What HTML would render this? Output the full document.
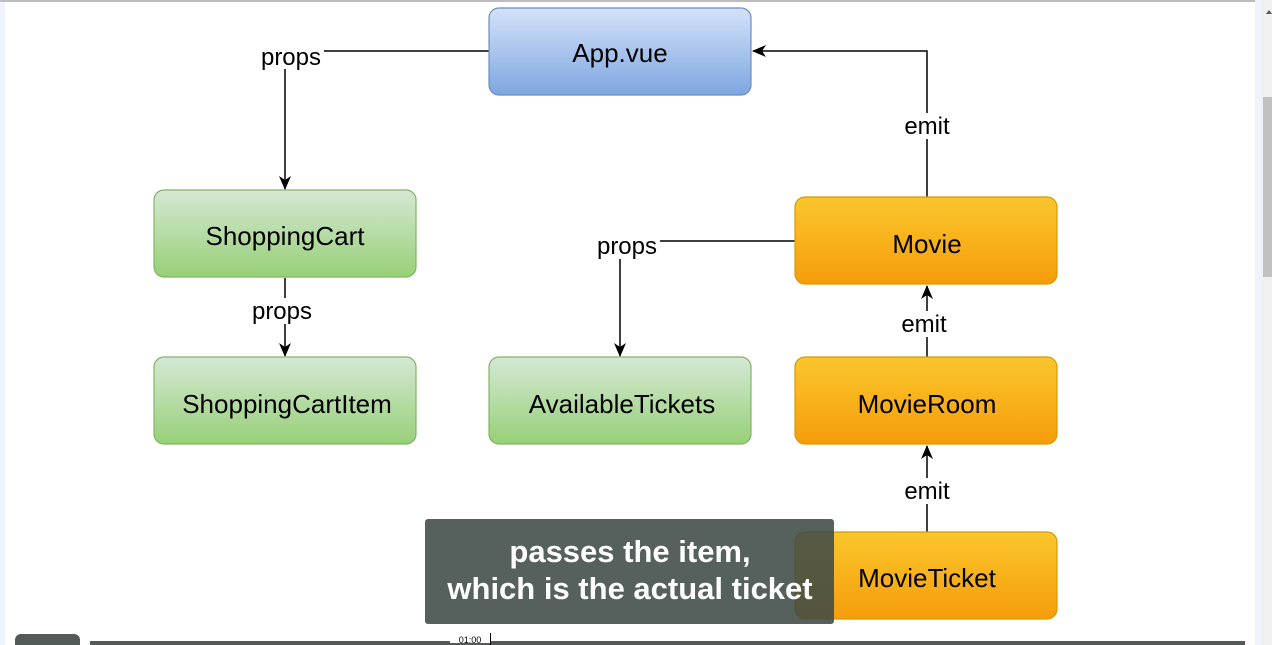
<!DOCTYPE html>
<html><head><meta charset="utf-8"><style>
html,body{margin:0;padding:0;width:1272px;height:645px;overflow:hidden;background:#fff;font-family:"Liberation Sans",Arial,sans-serif}
</style></head><body>
<svg width="1272" height="645" viewBox="0 0 1272 645" xmlns="http://www.w3.org/2000/svg" style="position:absolute;left:0;top:0">
<defs>
<linearGradient id="b" x1="0" y1="0" x2="0" y2="1"><stop offset="0" stop-color="#d4e2fa"/><stop offset="1" stop-color="#7ea6e0"/></linearGradient>
<linearGradient id="g" x1="0" y1="0" x2="0" y2="1"><stop offset="0" stop-color="#d5e8d4"/><stop offset="1" stop-color="#97d077"/></linearGradient>
<linearGradient id="o" x1="0" y1="0" x2="0" y2="1"><stop offset="0" stop-color="#fbc62c"/><stop offset="1" stop-color="#f59d0b"/></linearGradient>
<marker id="a" markerWidth="14" markerHeight="14" refX="13" refY="7" orient="auto" markerUnits="userSpaceOnUse"><path d="M0,1 L14,7 L0,13 L4,7 z" fill="#000"/></marker>
</defs>
<rect x="0" y="0" width="5" height="645" fill="#eef3fd"/>
<rect x="1255" y="0" width="6" height="645" fill="#eef3fd"/>
<rect x="1261" y="0" width="11" height="645" fill="#f0f0f0"/>
<rect x="1263" y="97" width="9" height="180" fill="#c1c1c1"/>
<path d="M1266,14 l3,-4 l3,4z" fill="#555"/>
<rect x="0" y="0" width="1255" height="2" fill="#bdbdbd"/>
<g stroke="#000" stroke-width="1.5" fill="none">
<path d="M489,51 H285 V189" marker-end="url(#a)"/>
<path d="M285,278 V356" marker-end="url(#a)"/>
<path d="M795,241 H620 V356" marker-end="url(#a)"/>
<path d="M927,197 V51 H753" marker-end="url(#a)"/>
<path d="M927,357 V286" marker-end="url(#a)"/>
<path d="M927,532 V446" marker-end="url(#a)"/>
</g>
<g font-size="24" text-anchor="middle" fill="#000">
<rect x="258" y="43" width="66" height="26" fill="#fff"/><text x="291" y="65">props</text>
<rect x="250" y="298" width="66" height="26" fill="#fff"/><text x="282" y="319">props</text>
<rect x="594" y="233" width="66" height="26" fill="#fff"/><text x="627" y="254">props</text>
<rect x="900" y="113" width="54" height="26" fill="#fff"/><text x="927" y="134">emit</text>
<rect x="896" y="311" width="56" height="26" fill="#fff"/><text x="924" y="332">emit</text>
<rect x="900" y="478" width="54" height="26" fill="#fff"/><text x="927" y="499">emit</text>
</g>
<g stroke-width="1.2">
<rect x="489" y="8" width="262" height="87" rx="10" fill="url(#b)" stroke="#6c8ebf"/>
<rect x="154" y="190" width="262" height="87" rx="10" fill="url(#g)" stroke="#82b366"/>
<rect x="154" y="357" width="262" height="87" rx="10" fill="url(#g)" stroke="#82b366"/>
<rect x="489" y="357" width="262" height="87" rx="10" fill="url(#g)" stroke="#82b366"/>
<rect x="795" y="197" width="262" height="87" rx="10" fill="url(#o)" stroke="#d79b00"/>
<rect x="795" y="357" width="262" height="87" rx="10" fill="url(#o)" stroke="#d79b00"/>
<rect x="795" y="532" width="262" height="87" rx="10" fill="url(#o)" stroke="#d79b00"/>
</g>
<g font-size="26" text-anchor="middle" fill="#000">
<text x="620" y="62">App.vue</text>
<text x="285" y="245">ShoppingCart</text>
<text x="287" y="413">ShoppingCartItem</text>
<text x="622" y="413">AvailableTickets</text>
<text x="927" y="253">Movie</text>
<text x="927" y="413">MovieRoom</text>
<text x="927" y="587">MovieTicket</text>
</g>
<rect x="425" y="519" width="409" height="105" rx="3" fill="#3f4a47" fill-opacity="0.88"/>
<g font-size="31" font-weight="bold" text-anchor="middle" fill="#fff">
<text x="630" y="562">passes the item,</text>
<text x="630" y="599">which is the actual ticket</text>
</g>
<rect x="15" y="634" width="65" height="20" rx="6" fill="#535b59"/>
<rect x="90" y="641" width="1155" height="8" fill="#535b59"/>
<rect x="450" y="633" width="40" height="10" fill="#fff"/>
<text x="470" y="643" font-size="9" text-anchor="middle" fill="#000">01:00</text>
<line x1="490.5" y1="633" x2="490.5" y2="645" stroke="#000"/>
</svg>
</body></html>
